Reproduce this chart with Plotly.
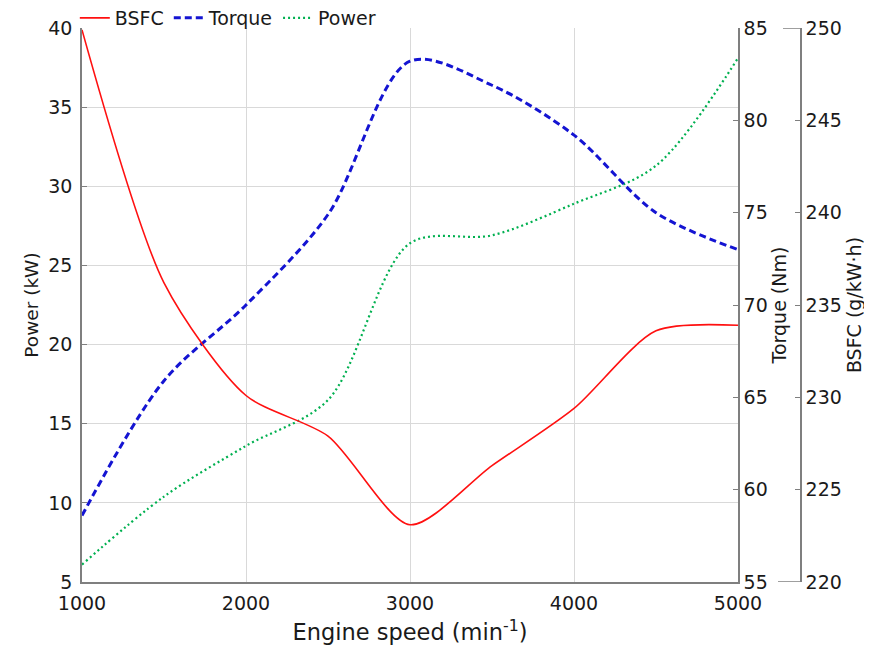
import plotly.graph_objects as go

# ---- data ----
rpm = [1000, 1500, 2000, 2500, 3000, 3500, 4000, 4500, 5000]
bsfc = [249.9, 236.2, 230.1, 227.9, 223.1, 226.3, 229.4, 233.6, 233.9]
torque = [58.6, 65.9, 70.0, 74.9, 83.2, 81.9, 79.2, 75.0, 73.0]
power = [6.1, 10.4, 13.6, 16.5, 26.4, 26.9, 28.9, 31.3, 38.1]

x_ticks = [1000, 2000, 3000, 4000, 5000]
power_ticks = [5, 10, 15, 20, 25, 30, 35, 40]
torque_ticks = [55, 60, 65, 70, 75, 80, 85]
bsfc_ticks = [220, 225, 230, 235, 240, 245, 250]

FONT = "DejaVu Sans, Verdana, sans-serif"
AX = "#7f7f7f"
GRID = "#d9d9d9"

fig = go.Figure()
fig.add_trace(go.Scatter(x=rpm, y=bsfc, name="BSFC", yaxis="y3", mode="lines",
                         line=dict(color="#ff1010", width=1.6, shape="spline", smoothing=0.75)))
fig.add_trace(go.Scatter(x=rpm, y=torque, name="Torque", yaxis="y2", mode="lines",
                         line=dict(color="#1414d2", width=3, dash="7px,4px", shape="spline", smoothing=0.9)))
fig.add_trace(go.Scatter(x=rpm, y=power, name="Power", yaxis="y", mode="lines",
                         line=dict(color="#00b050", width=2.2, dash="2px,3px", shape="spline", smoothing=0.9)))

# page body adds an 8px offset; figure sized so the plot lands where the reference has it
W, H = 864, 637
L, T = 74, 20
plot_w, plot_h = 656, 554
R = 71
B = H - T - plot_h
pw = W - L - R
xdom = plot_w / pw

fig.update_layout(
    width=W, height=H,
    margin=dict(l=L, r=R, t=T, b=B, autoexpand=False),
    paper_bgcolor="white", plot_bgcolor="white",
    font=dict(family=FONT, size=19, color="#1a1a1a"),
    showlegend=True,
    legend=dict(orientation="h", x=-0.01, y=1 + 10 / plot_h, xanchor="left", yanchor="middle",
                font=dict(size=19), itemwidth=30, bgcolor="rgba(0,0,0,0)",
                tracegroupgap=0, traceorder="normal"),
    xaxis=dict(domain=[0, xdom], range=[1000, 5000], tickvals=x_ticks,
               showgrid=True, gridcolor=GRID, gridwidth=1,
               showline=True, linecolor=AX, linewidth=1.5, zeroline=False,
               ticks="", tickfont=dict(size=19), ticklabelstandoff=3,
               title=dict(text="Engine speed (min<sup>-1</sup>)", font=dict(size=22.5), standoff=12)),
    yaxis=dict(range=[5, 40], tickvals=power_ticks, showgrid=True, gridcolor=GRID,
               showline=True, linecolor=AX, linewidth=1.5, zeroline=False,
               ticks="inside", ticklen=5, tickcolor=AX, ticklabelstandoff=4,
               title=dict(text="Power (kW)", font=dict(size=18.5), standoff=5)),
    yaxis2=dict(range=[55, 85], tickvals=torque_ticks, overlaying="y", side="right", anchor="x",
                showgrid=False, showline=True, linecolor=AX, linewidth=1.5, zeroline=False,
                ticks="inside", ticklen=5, tickcolor=AX,
                title=dict(text="Torque (Nm)", font=dict(size=19), standoff=0)),
    yaxis3=dict(range=[220, 250], tickvals=bsfc_ticks, overlaying="y", side="right",
                anchor="free", position=1.0,
                showgrid=False, showline=True, linecolor=AX, linewidth=1.5, zeroline=False,
                ticks="inside", ticklen=5, tickcolor=AX,
                title=dict(text="BSFC (g/kW·h)", font=dict(size=19), standoff=6)),
)

# bracket ends on the BSFC axis
for yv, dx in [(bsfc_ticks[-1], 18), (bsfc_ticks[0], 23)]:
    fig.add_shape(type="line", xref="paper", yref="y3",
                  x0=1.0 - dx / pw, x1=1.0, y0=yv, y1=yv,
                  line=dict(color=AX, width=1.5))

fig.write_html("out.html")
